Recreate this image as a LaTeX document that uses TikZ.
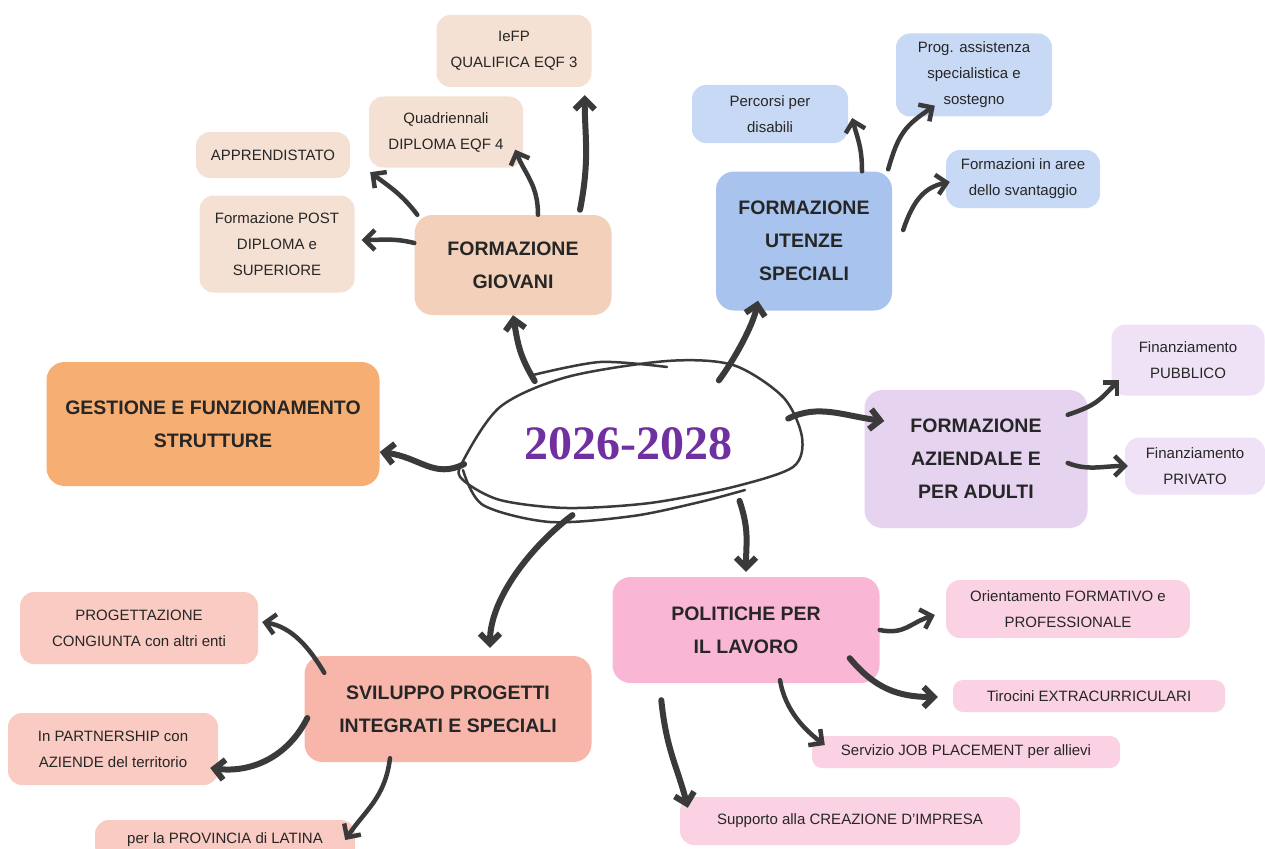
\documentclass[tikz,border=0pt]{standalone}
\usepackage{fontspec}
\setmainfont{Liberation Sans}
\newfontfamily\yearfont{Liberation Serif}
\usetikzlibrary{arrows.meta}
\usetikzlibrary{shapes.geometric}

\definecolor{ink}{HTML}{3A3A3A}
\definecolor{txt}{HTML}{262626}
\definecolor{year}{HTML}{7030A0}
\definecolor{giovm}{HTML}{F2D0BA}
\definecolor{giovl}{HTML}{F5E1D3}
\definecolor{utenm}{HTML}{A7C3EE}
\definecolor{utenl}{HTML}{C8D9F6}
\definecolor{aziem}{HTML}{E5D3F0}
\definecolor{aziel}{HTML}{EFE2F6}
\definecolor{gestm}{HTML}{F6AE72}
\definecolor{polim}{HTML}{FAB7D5}
\definecolor{polil}{HTML}{FBD2E4}
\definecolor{svilm}{HTML}{F8B6AB}
\definecolor{svill}{HTML}{F9CBC3}

\begin{document}
\begin{tikzpicture}[x = 1pt, y = -1pt,
main/.style = {shape = rectangle, rounded corners = 18pt, align = center, text = txt, inner sep = 0pt, font = \fontsize{19.5}{33}\selectfont\bfseries},
leaf/.style = {shape = rectangle, rounded corners = 14pt, align = center, text = txt, inner sep = 0pt, font = \fontsize{15}{26}\selectfont},
arr/.style = {draw = ink, line width = 4.5pt, line cap = round, -{Straight Barb[length = 10pt, width = 20pt]}},
bigarr/.style = {arr, line width = 6pt},
sketch/.style = {draw = ink, line width = 2.5pt, line cap = round},
]
\useasboundingbox (0,0) rectangle (1265,848);

% centre
\node[shape = ellipse, minimum width = 340pt, minimum height = 150pt, inner sep = 0pt, text = year, font = \yearfont\bfseries\fontsize{48}{48}\selectfont] (core) at (628,444) {2026-2028};
\draw[sketch] plot[smooth cycle] coordinates {(462,463) (500,407) (567,377) (667,361) (733,365) (783,397) (802,437) (793,467) (733,487) (650,503) (567,508) (500,500) (463,480)};
\draw[sketch] plot[smooth] coordinates {(463,470) (483,505) (550,522) (633,516) (700,502) (745,490)};
\draw[sketch] plot[smooth] coordinates {(533,375) (600,362) (667,367)};

% main topics
\node[main, fill = giovm, minimum width = 197pt, minimum height = 100pt] (giov) at (513,265) {FORMAZIONE\\GIOVANI};
\node[main, fill = utenm, minimum width = 176pt, minimum height = 139pt] (uten) at (804,241) {FORMAZIONE\\UTENZE\\SPECIALI};
\node[main, fill = aziem, minimum width = 223pt, minimum height = 138pt] (azie) at (976,459) {FORMAZIONE\\AZIENDALE E\\PER ADULTI};
\node[main, fill = gestm, minimum width = 333pt, minimum height = 124pt] (gest) at (213,424) {GESTIONE E FUNZIONAMENTO\\STRUTTURE};
\node[main, fill = polim, minimum width = 267pt, minimum height = 106pt] (poli) at (746,630) {POLITICHE PER\\IL LAVORO};
\node[main, fill = svilm, minimum width = 287pt, minimum height = 106pt] (svil) at (448,709) {SVILUPPO PROGETTI\\INTEGRATI E SPECIALI};

% leaves
\node[leaf, fill = giovl, minimum width = 155pt, minimum height = 72pt] (fgiefp) at (514,51) {IeFP\\QUALIFICA EQF 3};
\node[leaf, fill = giovl, minimum width = 154pt, minimum height = 71pt] (fgquad) at (446,132) {Quadriennali\\DIPLOMA EQF 4};
\node[leaf, fill = giovl, minimum width = 154pt, minimum height = 46pt] (fgappr) at (273,155) {APPRENDISTATO};
\node[leaf, fill = giovl, minimum width = 155pt, minimum height = 97pt] (fgpost) at (277,244) {Formazione POST\\DIPLOMA e\\SUPERIORE};
\node[leaf, fill = utenl, minimum width = 156pt, minimum height = 58pt] (fusperc) at (770,114) {Percorsi per\\disabili};
\node[leaf, fill = utenl, minimum width = 156pt, minimum height = 83pt] (fusprog) at (974,75) {Prog. assistenza\\specialistica e\\sostegno};
\node[leaf, fill = utenl, minimum width = 154pt, minimum height = 58pt] (fusaree) at (1023,179) {Formazioni in aree\\dello svantaggio};
\node[leaf, fill = aziel, minimum width = 153pt, minimum height = 71pt] (fazpub) at (1188,360) {Finanziamento\\PUBBLICO};
\node[leaf, fill = aziel, minimum width = 140pt, minimum height = 57pt] (fazpriv) at (1195,466) {Finanziamento\\PRIVATO};
\node[leaf, fill = polil, minimum width = 244pt, minimum height = 58pt] (polor) at (1068,609) {Orientamento FORMATIVO e\\PROFESSIONALE};
\node[leaf, fill = polil, minimum width = 272pt, minimum height = 32pt, rounded corners = 10pt] (poltir) at (1089,696) {Tirocini EXTRACURRICULARI};
\node[leaf, fill = polil, minimum width = 308pt, minimum height = 32pt, rounded corners = 10pt] (poljob) at (966,752) {Servizio JOB PLACEMENT per allievi};
\node[leaf, fill = polil, minimum width = 340pt, minimum height = 48pt] (polimp) at (850,821) {Supporto alla CREAZIONE D'IMPRESA};
\node[leaf, fill = svill, minimum width = 238pt, minimum height = 72pt] (svprog) at (139,628) {PROGETTAZIONE\\CONGIUNTA con altri enti};
\node[leaf, fill = svill, minimum width = 210pt, minimum height = 72pt] (svpart) at (113,749) {In PARTNERSHIP con\\AZIENDE del territorio};
\node[leaf, fill = svill, minimum width = 260pt, minimum height = 40pt] (svprov) at (225,840) {per la PROVINCIA di LATINA};

% centre to topics
\draw[bigarr] (core.146) .. controls +(-15,-25) and +(5,30) .. (giov.south);
\draw[bigarr] (core.35) .. controls +(15,-20) and +(-5,25) .. ([xshift=-46pt,yshift=10pt]uten.south);
\draw[bigarr] (core.9) .. controls +(30,-15) and +(-40,-5) .. ([xshift=20pt,yshift=38pt]azie.west);
\draw[bigarr] (core.187) .. controls +(-30,15) and +(40,5) .. ([yshift=-28pt]gest.east);
\draw[bigarr] (core.232) .. controls +(-40,30) and +(0,-50) .. ([xshift=42pt,yshift=8pt]svil.north);
\draw[bigarr] (core.-27) .. controls +(10,30) and +(0,-30) .. ([yshift=5pt]poli.north);

% topics to leaves
\draw[arr] ([yshift=22pt]giov.west) .. controls +(-20,-5) and +(20,0) .. ([xshift=7pt,yshift=4pt]fgpost.east);
\draw[arr] ([xshift=3pt]giov.north west) .. controls +(-15,-20) and +(20,15) .. ([xshift=20pt,yshift=6pt]fgappr.south east);
\draw[arr] ([xshift=25pt]giov.north) .. controls +(0,-30) and +(10,25) .. ([xshift=-8pt,yshift=18pt]fgquad.south east);
\draw[bigarr] ([xshift=67pt,yshift=5pt]giov.north) .. controls +(10,-50) and +(0,40) .. ([xshift=-7pt,yshift=-8pt]fgiefp.south east);
\draw[arr] ([xshift=58pt]uten.north) .. controls +(0,-25) and +(5,20) .. ([xshift=4pt,yshift=-4pt]fusperc.east);
\draw[arr] ([xshift=-4pt,yshift=2pt]uten.north east) .. controls +(10,-35) and +(-30,20) .. ([xshift=39pt,yshift=11pt]fusprog.south west);
\draw[arr] ([xshift=11pt,yshift=11pt]uten.east) .. controls +(10,-30) and +(-25,5) .. ([xshift=4pt,yshift=-3pt]fusaree.west);
\draw[arr] ([xshift=-20pt,yshift=-25pt]azie.north east) .. controls +(30,-10) and +(-20,20) .. ([xshift=8pt,yshift=-20pt]fazpub.west);
\draw[arr] ([xshift=-20pt,yshift=-4pt]azie.east) .. controls +(20,8) and +(-25,0) .. ([xshift=3pt]fazpriv.west);
\draw[arr] (poli.east) .. controls +(25,5) and +(-25,8) .. ([xshift=-11pt,yshift=-6pt]polor.west);
\draw[bigarr] ([xshift=-30pt,yshift=25pt]poli.south east) .. controls +(25,30) and +(-40,0) .. ([xshift=-15pt,yshift=-1pt]poltir.west);
\draw[arr] ([xshift=34pt,yshift=3pt]poli.south) .. controls +(5,30) and +(-20,-15) .. ([xshift=13pt,yshift=7pt]poljob.west);
\draw[bigarr] ([xshift=49pt,yshift=-17pt]poli.south west) .. controls +(5,50) and +(-10,-40) .. ([xshift=8pt,yshift=-11pt]polimp.north west);
\draw[arr] ([xshift=20pt,yshift=-17pt]svil.north west) .. controls +(-15,-25) and +(30,5) .. ([xshift=4pt,yshift=6pt]svprog.east);
\draw[bigarr] ([xshift=3pt,yshift=-9pt]svil.west) .. controls +(-20,40) and +(40,5) .. ([xshift=-8pt,yshift=-19pt]svpart.east);
\draw[arr] ([xshift=-58pt,yshift=4pt]svil.south) .. controls +(-5,40) and +(20,-30) .. ([xshift=-10pt]svprov.east);
\end{tikzpicture}
\end{document}
